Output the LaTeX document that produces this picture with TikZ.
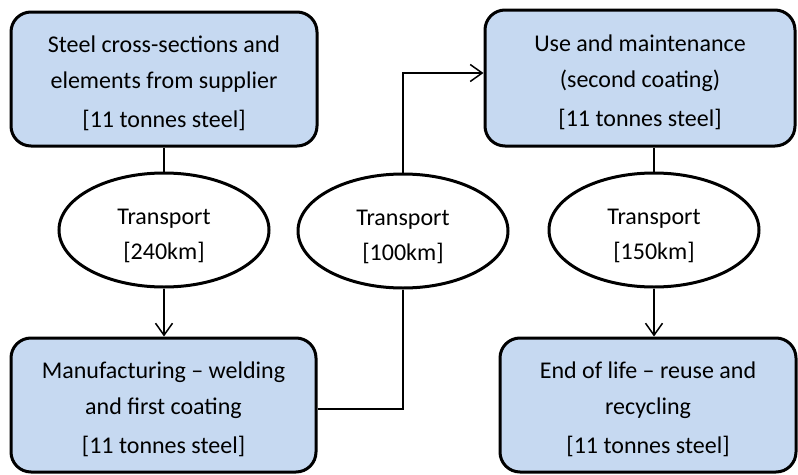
\documentclass[tikz,border=0pt]{standalone}
\usepackage{fontspec}
\setmainfont{Carlito}
\usetikzlibrary{arrows.meta,shapes.geometric}
\definecolor{stagefill}{RGB}{198,217,241}
\tikzset{
  stagebox/.style={draw=black, line width=3pt, fill=stagefill, rounded corners=20pt,
    inner sep=0pt},
  stagetext/.style={align=center, font=\fontsize{24}{36}\selectfont, inner sep=0pt},
  transport/.style={draw=black, line width=3pt, fill=white, ellipse,
    minimum width=210pt, minimum height=114pt, inner sep=0pt},
  transporttext/.style={align=center, font=\fontsize{24}{35}\selectfont, inner sep=0pt},
  link/.style={line width=1.5pt},
  flow/.style={link, -{Straight Barb[length=12pt,width=17pt,line width=1.5pt]}}
}
\begin{document}
\begin{tikzpicture}[x=1pt, y=-1pt]
  \useasboundingbox (0,0) rectangle (798,474);

  % life-cycle stages
  \node[stagebox, minimum width=306pt, minimum height=134pt] (supply) at (164,79) {};
  \node[stagebox, minimum width=305pt, minimum height=134pt] (manuf) at (163.5,405) {};
  \node[stagebox, minimum width=310pt, minimum height=136pt] (use) at (640,78) {};
  \node[stagebox, minimum width=296pt, minimum height=134pt] (eol) at (648,405) {};

  \node[stagetext] (supply-text) at ([yshift=-4pt]supply.center)
    {Steel cross-sections and\\ elements from supplier\\[3pt]{}[11 tonnes steel]};
  \node[stagetext] (manuf-text) at ([yshift=-4pt]manuf.center)
    {Manufacturing -- welding\\ and first coating\\[3pt]{}[11 tonnes steel]};
  \node[stagetext] (use-text) at ([yshift=-4pt]use.center)
    {Use and maintenance\\ (second coating)\\[3pt]{}[11 tonnes steel]};
  \node[stagetext] (eol-text) at ([yshift=-4pt]eol.center)
    {End of life -- reuse and\\ recycling\\[3pt]{}[11 tonnes steel]};

  % transport legs
  \node[transport] (t1) at (164,230) {};
  \node[transport] (t2) at (403,231) {};
  \node[transport] (t3) at (654,230) {};

  \node[transporttext] (t1-text) at ([yshift=-6pt]t1.center) {Transport\\{}[240km]};
  \node[transporttext] (t2-text) at ([yshift=-6pt]t2.center) {Transport\\{}[100km]};
  \node[transporttext] (t3-text) at ([yshift=-6pt]t3.center) {Transport\\{}[150km]};

  % connectors
  \draw[link] (t1.north |- supply.south) -- (t1.north);
  \draw[flow] (t1.south) -- (t1.south |- manuf.north);
  \draw[link] ([yshift=-4pt]manuf.east) -| (t2.south);
  \draw[flow] (t2.north) |- ([yshift=5pt]use.west);
  \draw[link] (t3.north |- use.south) -- (t3.north);
  \draw[flow] (t3.south) -- (t3.south |- eol.north);
\end{tikzpicture}
\end{document}
